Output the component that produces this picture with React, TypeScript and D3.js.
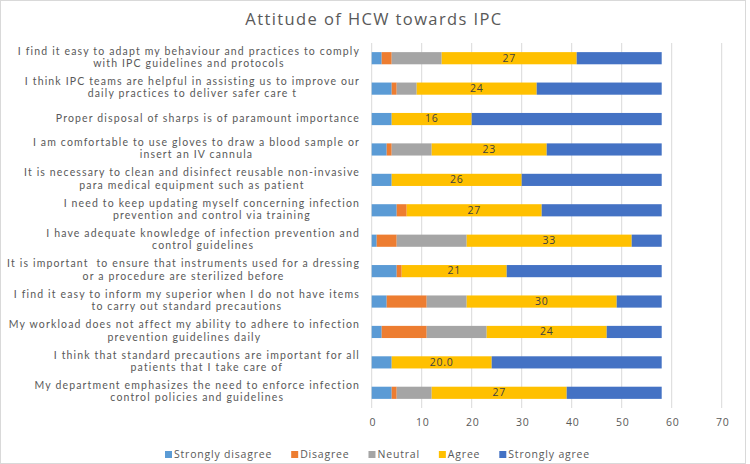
import { useEffect, useRef } from 'react'
import * as d3 from 'd3'

const categories = [
  'I find it easy to adapt my behaviour and practices to comply\nwith IPC guidelines and protocols',
  'I think IPC teams are helpful in assisting us to improve our\ndaily practices to deliver safer care t',
  'Proper disposal of sharps is of paramount importance',
  'I am comfortable to use gloves to draw a blood sample or\ninsert an IV cannula',
  'It is necessary to clean and disinfect reusable non-invasive\npara medical equipment such as patient',
  'I need to keep updating myself concerning infection\nprevention and control via training',
  'I have adequate knowledge of infection prevention and\ncontrol guidelines',
  'It is important  to ensure that instruments used for a dressing\nor a procedure are sterilized before',
  'I find it easy to inform my superior when I do not have items\nto carry out standard precautions',
  'My workload does not affect my ability to adhere to infection\nprevention guidelines daily',
  'I think that standard precautions are important for all\npatients that I take care of',
  'My department emphasizes the need to enforce infection\ncontrol policies and guidelines',
]

const stronglyDisagree = [2, 4, 4, 3, 4, 5, 1, 5, 3, 2, 4, 4]
const disagree = [2, 1, 0, 1, 0, 2, 4, 1, 8, 9, 0, 1]
const neutral = [10, 4, 0, 8, 0, 0, 14, 0, 8, 12, 0, 7]
const agree = [27, 24, 16, 23, 26, 27, 33, 21, 30, 24, 20, 27]
const stronglyAgree = [17, 25, 38, 23, 28, 24, 6, 31, 9, 11, 34, 19]

// decimals shown on the Agree data labels
const agreeDecimals = [0, 0, 0, 0, 0, 0, 0, 0, 0, 0, 1, 0]

const seriesNames = ['Strongly disagree', 'Disagree', 'Neutral', 'Agree', 'Strongly agree']
const seriesColors = ['#5B9BD5', '#ED7D31', '#A5A5A5', '#FFC000', '#4472C4']
const xTicks = [0, 10, 20, 30, 40, 50, 60, 70]

const width = 750
const height = 464
const font = '"Open Sans", sans-serif'
const labelFont = 'Lato, sans-serif'
const textColor = '#595959'

export default function App() {
  const svgRef = useRef<SVGSVGElement>(null)

  useEffect(() => {
    if (!svgRef.current) return
    const svg = d3.select(svgRef.current)
    svg.selectAll('*').remove()

    const plot = { left: 371.7, right: 721.7, top: 43, bottom: 408 }

    const x = d3.scaleLinear().domain([0, 70]).range([plot.left, plot.right])
    const y = d3
      .scaleBand()
      .domain(categories)
      .range([plot.top, plot.bottom])
      .paddingInner(0.6)
      .paddingOuter(0.3)

    // chart border
    svg
      .append('rect')
      .attr('x', 0.5)
      .attr('y', 0.5)
      .attr('width', 745)
      .attr('height', height - 1)
      .attr('fill', 'white')
      .attr('stroke', '#d9d9d9')

    // title
    svg
      .append('text')
      .attr('x', 374)
      .attr('y', 21)
      .attr('text-anchor', 'middle')
      .attr('dominant-baseline', 'middle')
      .attr('font-family', font)
      .attr('font-size', '16.5px')
      .attr('letter-spacing', '1.4px')
      .attr('fill', textColor)
      .text('Attitude of HCW towards IPC')

    // vertical grid lines
    svg
      .append('g')
      .selectAll('line')
      .data(xTicks)
      .enter()
      .append('line')
      .attr('x1', (d) => x(d))
      .attr('x2', (d) => x(d))
      .attr('y1', plot.top)
      .attr('y2', plot.bottom)
      .attr('stroke', '#d9d9d9')
      .attr('stroke-width', 1)

    // x tick labels
    svg
      .append('g')
      .selectAll('text')
      .data(xTicks)
      .enter()
      .append('text')
      .attr('x', (d) => x(d) + 1)
      .attr('y', 423)
      .attr('text-anchor', 'middle')
      .attr('dominant-baseline', 'middle')
      .attr('font-family', font)
      .attr('font-size', '10.5px')
      .attr('letter-spacing', '0.6px')
      .attr('fill', textColor)
      .text((d) => d)

    // stacked segments
    const seriesValues = [stronglyDisagree, disagree, neutral, agree, stronglyAgree]
    const rows = categories.map((c, i) => {
      const r: Record<string, number | string> = { category: c }
      seriesNames.forEach((s, k) => (r[s] = seriesValues[k][i]))
      return r
    })
    const stacked = d3.stack<Record<string, number | string>>().keys(seriesNames)(rows as any)

    stacked.forEach((layer, k) => {
      svg
        .append('g')
        .selectAll('rect')
        .data(layer)
        .enter()
        .append('rect')
        .attr('x', (d) => x(d[0]))
        .attr('y', (d) => y(d.data.category as string) || 0)
        .attr('width', (d) => x(d[1]) - x(d[0]))
        .attr('height', y.bandwidth())
        .attr('fill', seriesColors[k])
    })

    // data labels on the Agree segments
    const agreeLayer = stacked[3]
    svg
      .append('g')
      .selectAll('text')
      .data(agreeLayer)
      .enter()
      .append('text')
      .attr('x', (d) => (x(d[0]) + x(d[1])) / 2)
      .attr('y', (d) => (y(d.data.category as string) || 0) + y.bandwidth() / 2 + 0.5)
      .attr('text-anchor', 'middle')
      .attr('dominant-baseline', 'middle')
      .attr('font-family', font)
      .attr('font-size', '10.5px')
      .attr('letter-spacing', '0.8px')
      .attr('fill', '#404040')
      .text((d, i) => d3.format(`.${agreeDecimals[i]}f`)(d[1] - d[0]))

    // category labels: one text per category, lines as tspans centred
    // within a block that is right-aligned to the plot
    const labelRight = 360
    const lineHeight = 12.4
    categories.forEach((c) => {
      const lines = c.split('\n')
      const cy = (y(c) || 0) + y.bandwidth() / 2 - 0.5
      const text = svg
        .append('text')
        .attr('text-anchor', 'middle')
        .attr('dominant-baseline', 'middle')
        .attr('font-family', labelFont)
        .attr('font-size', '10.5px')
        .attr('letter-spacing', '1.15px')
        .attr('fill', textColor)
        .style('white-space', 'pre')
      const spans = lines.map((line, li) =>
        text
          .append('tspan')
          .attr('y', cy + (li - (lines.length - 1) / 2) * lineHeight)
          .attr('dominant-baseline', 'middle')
          .text(line)
      )
      const blockW = d3.max(spans, (s) => (s.node() as SVGTSpanElement).getComputedTextLength()) || 0
      spans.forEach((s) => s.attr('x', labelRight - blockW / 2))
    })

    // legend
    const legend = svg.append('g')
    let lx = 165
    seriesNames.forEach((name, k) => {
      legend
        .append('rect')
        .attr('x', lx)
        .attr('y', 451)
        .attr('width', 7)
        .attr('height', 7)
        .attr('fill', seriesColors[k])
      const t = legend
        .append('text')
        .attr('x', lx + 9)
        .attr('y', 455)
        .attr('dominant-baseline', 'middle')
        .attr('font-family', font)
        .attr('font-size', '10.5px')
        .attr('letter-spacing', '0.8px')
        .attr('fill', textColor)
        .text(name)
      lx += 9 + (t.node() as SVGTextElement).getComputedTextLength() + 19
    })
  }, [])

  return (
    <>
      <style>{'body{margin:0}'}</style>
      <svg ref={svgRef} width={width} height={height} style={{ display: 'block' }} />
    </>
  )
}
